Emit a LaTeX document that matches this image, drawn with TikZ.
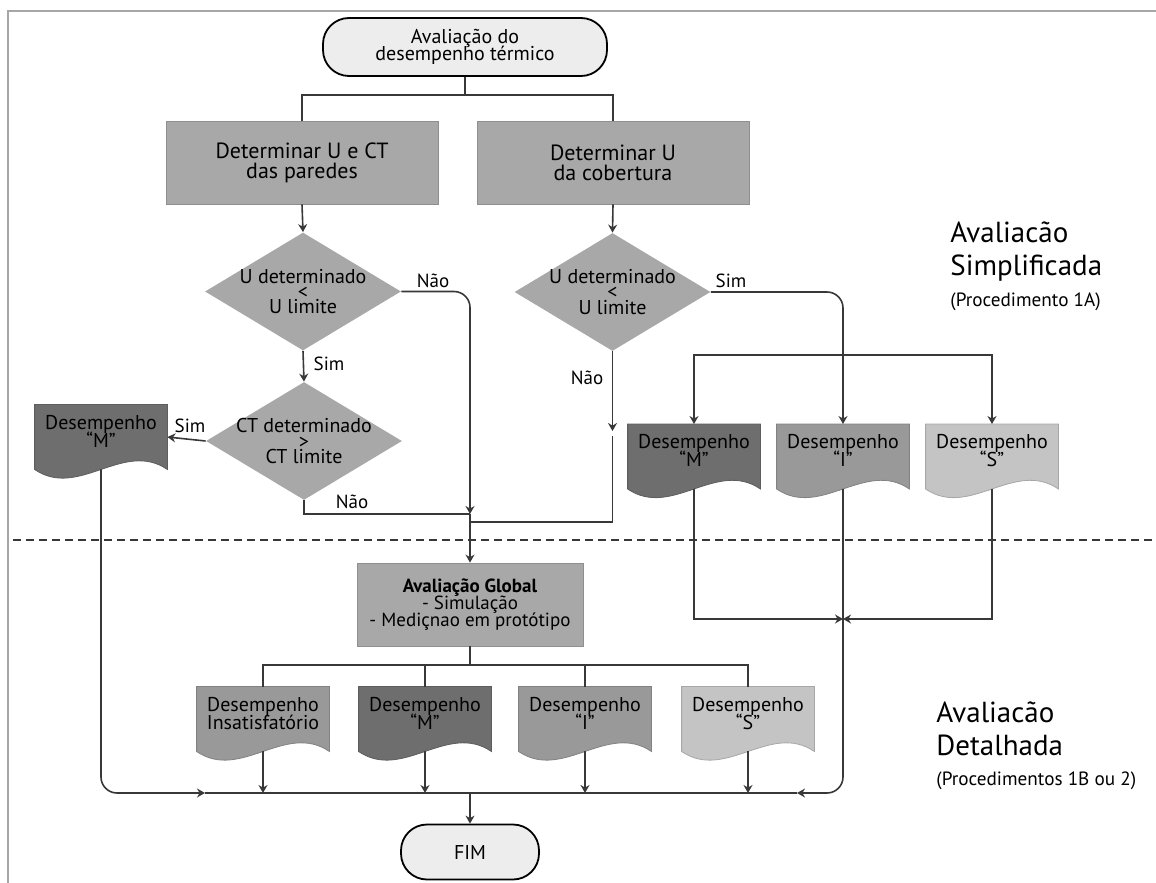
\documentclass[tikz,border=0pt]{standalone}
\usepackage{fontspec}
\setmainfont{PT Sans}
\usetikzlibrary{arrows.meta,shapes.geometric,backgrounds}

\definecolor{lineg}{gray}{0.22}
\definecolor{termg}{gray}{0.93}
\definecolor{boxg}{gray}{0.66}
\definecolor{dmM}{gray}{0.43}
\definecolor{dmI}{gray}{0.60}
\definecolor{dmS}{gray}{0.77}

\tikzset{
  termbox/.style={draw=black,line width=0.9pt,fill=termg,rounded corners=13pt,align=center,inner sep=0pt},
  stepbox/.style={fill=boxg,draw=boxg!85!black,align=center,font=\fontsize{11}{13}\selectfont,minimum width=136pt,minimum height=41.5pt,inner sep=0pt},
  testbox/.style={diamond,aspect=1.67,fill=boxg,align=center,font=\fontsize{10}{12}\selectfont,minimum width=98pt,minimum height=59pt,inner sep=-3pt},
  docbox/.style={align=center,font=\fontsize{10}{12}\selectfont,minimum width=66pt,inner xsep=0pt,inner ysep=5pt,text depth=6pt},
  conn/.style={draw=lineg,line width=0.8pt},
  lbl/.style={font=\fontsize{9.5}{11.4}\selectfont,inner sep=1pt},
  sidetitle/.style={anchor=base west,font=\fontsize{14.5}{17}\selectfont,inner sep=0pt},
  sidenote/.style={anchor=base west,font=\fontsize{9.6}{11}\selectfont,inner sep=0pt},
}

\begin{document}
\begin{tikzpicture}[x=0.5pt,y=-0.5pt,>={Stealth[length=4pt,width=4.5pt]}]
\useasboundingbox (0,0) rectangle (1156,883);
% frame
\draw[gray!70,line width=1.2pt] (8,883) -- (8,11) -- (1156,11);

% upper part
\node[termbox,font=\fontsize{10}{12}\selectfont,minimum width=142pt,minimum height=29pt] (start) at (465,47) {Avaliação do\\[-3.5pt]desempenho térmico};
\node[stepbox] (box1) at (302,162.5) {Determinar U e CT\\[-3pt]das paredes};
\node[stepbox] (box2) at (613,162.5) {Determinar U\\[-3pt]da cobertura};
\node[testbox] (dU1) at (303,291.5) {U determinado\\[-4.3pt]<\\[-4.3pt]U limite};
\node[testbox] (dU2) at (612.5,292) {U determinado\\[-4.3pt]<\\[-4.3pt]U limite};
\node[testbox] (dCT) at (304,441) {CT determinado\\[-4.3pt]>\\[-4.3pt]CT limite};
\node[docbox] (mL) at (101,437) {Desempenho\\[-3pt]“M”};
\node[docbox] (rM) at (694,456.5) {Desempenho\\[-3pt]“M”};
\node[docbox] (rI) at (843,456.5) {Desempenho\\[-3pt]“I”};
\node[docbox] (rS) at (992,456.5) {Desempenho\\[-3pt]“S”};

% lower part
\node[stepbox,minimum width=113pt,font=\fontsize{9.5}{11.4}\selectfont] (glob) at (470,604.5) {\textbf{Avaliação Global}\\[-2.9pt]- Simulação\\[-2.9pt]- Mediçnao em protótipo};
\node[docbox] (bIn) at (263,719) {Desempenho\\[-3pt]Insatisfatório};
\node[docbox] (bM) at (425,719) {Desempenho\\[-3pt]“M”};
\node[docbox] (bI) at (585,719) {Desempenho\\[-3pt]“I”};
\node[docbox] (bS) at (748,719) {Desempenho\\[-3pt]“S”};
\node[termbox,font=\fontsize{10}{12}\selectfont,minimum width=69pt,minimum height=27.5pt] (fim) at (470,852) {FIM};

% wavy document shapes
\begin{scope}[on background layer]
\foreach \n/\c in {mL/dmM,rM/dmM,rI/dmI,rS/dmS,bIn/dmI,bM/dmM,bI/dmI,bS/dmS}
  \filldraw[fill=\c,draw=\c!85!black] (\n.north west) -- (\n.north east) -- (\n.south east)
    .. controls +(-22pt,15pt) and +(22pt,-15pt) .. (\n.south west) -- cycle;
\end{scope}

% side titles
\node[sidetitle] (tS1) at (950,242) {Avaliacão};
\node[sidetitle] (tS2) at (950,275) {Simplificada};
\node[sidenote] (tS3) at (950,306) {(Procedimento 1A)};
\node[sidetitle] (tD1) at (936,722) {Avaliacão};
\node[sidetitle] (tD2) at (936,755) {Detalhada};
\node[sidenote] (tD3) at (936,785) {(Procedimentos 1B ou 2)};

% helper points
\coordinate (split) at (465,95);
\coordinate (jn) at (470,514);
\coordinate (jn2) at (470,522);
\coordinate (nU2) at (612.5,431);
\coordinate (nU2b) at (612.5,436);
\coordinate (br) at (843,355);
\coordinate (mrg) at (843,619);
\coordinate (dist) at (470,665);
\coordinate (bus) at (470,793);
\coordinate (arrL) at (205,793);
\coordinate (arrR) at (797,793);

% connectors
\draw[conn] (start.south) -- (split);
\draw[conn] (split) -| (box1.north);
\draw[conn] (split) -| (box2.north);
\draw[conn,->] (box1.south) -- (dU1.north);
\draw[conn,->] (box2.south) -- (dU2.north);
\draw[conn,->,rounded corners=8pt] (dU1.east) -| (jn);
\draw[conn,->] (dU1.south) -- (dCT.north);
\draw[conn,->] (dCT.west) -- (mL.east);
\draw[conn] (dCT.south) |- (jn);
\draw[conn,->] (dU2.south) -- (nU2);
\draw[conn] (nU2b) |- (jn2);
\draw[conn,->,rounded corners=8pt] (dU2.east) -| (rI.north);
\draw[conn,->] (br) -| (rM.north);
\draw[conn,->] (br) -| (rS.north);
\draw[conn,dash pattern=on 4pt off 2.5pt] (13,540) -- (1156,540);
\draw[conn,->] (jn) -- (glob.north);
\draw[conn,->] (rM.south) |- (mrg);
\draw[conn,->] (rS.south) |- (mrg);
\draw[conn,->,rounded corners=8pt] (rI.south) |- (arrR);
\draw[conn] (arrR) -- (bus);
\draw[conn,->,rounded corners=8pt] (mL.south) |- (arrL);
\draw[conn] (arrL) -- (bus);
\draw[conn] (glob.south) -- (dist);
\foreach \n in {bIn,bM,bI,bS} \draw[conn] (dist) -| (\n.north);
\foreach \n in {bIn,bM,bI,bS} \draw[conn,->] (\n.south) -- (\n.south |- bus);
\draw[conn,->] (bus) -- (fim.north);

% labels
\node[lbl] (lNao1) at (433,281) {Não};
\node[lbl] (lSim1) at (329,364) {Sim};
\node[lbl] (lSim2) at (190,426) {Sim};
\node[lbl] (lNao2) at (352,502) {Não};
\node[lbl] (lNao3) at (587,378) {Não};
\node[lbl] (lSim3) at (731,281) {Sim};
\end{tikzpicture}
\end{document}
